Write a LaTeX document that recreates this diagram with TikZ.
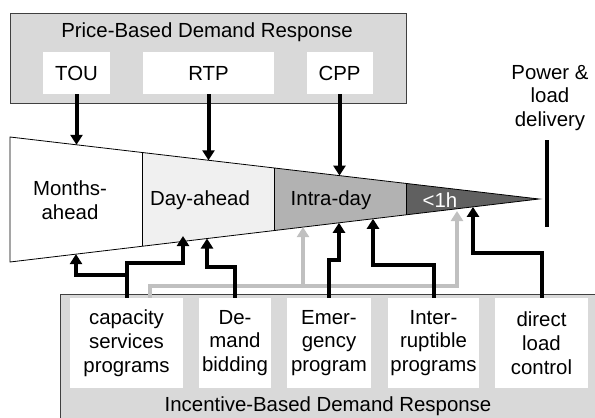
\documentclass[tikz,border=0pt]{standalone}
\usepackage{fontspec}
\setmainfont{Liberation Sans}
\usetikzlibrary{arrows.meta}
\definecolor{panelgray}{HTML}{D9D9D9}
\definecolor{dayfill}{HTML}{F0F0F0}
\definecolor{intrafill}{HTML}{B2B2B2}
\definecolor{hourfill}{HTML}{606060}
\definecolor{linkgray}{HTML}{C0C0C0}
\tikzset{
  every node/.style={font=\fontsize{20.4}{23.8}\selectfont, inner sep=0pt, align=center},
  panel/.style={draw=black!75, line width=0.9pt, fill=panelgray, anchor=north west},
  item/.style={fill=white, minimum height=42pt},
  prog/.style={fill=white, minimum height=90pt},
  link/.style={line width=4pt, -{Triangle[width=12pt,length=10pt]}},
  greylink/.style={link, draw=linkgray},
}

\begin{document}
\begin{tikzpicture}[x=1pt,y=-1pt]
    \useasboundingbox (0,0) rectangle (595,418);
    % panels
    \node[panel, minimum width=396pt, minimum height=90pt] (pricebox) at (10,13) {};
    \node[panel, minimum width=560pt, minimum height=140pt] (incbox) at (60,294) {};
    \node (pricetitle) at (207,32) {Price-Based Demand Response};
    \node (inctitle) at (328,406) {Incentive-Based Demand Response};
    \node[item, minimum width=67pt] (tou) at (76.5,73) {TOU};
    \node[item, minimum width=131pt] (rtp) at (208.5,73) {RTP};
    \node[item, minimum width=66pt] (cpp) at (339.5,73) {CPP};
    \node[prog, minimum width=113pt] (cap) at (126.5,343) {capacity\\services\\programs};
    \node[prog, minimum width=72pt] (dem) at (235,343) {De-\\mand\\bidding};
    \node[prog, minimum width=84pt] (emg) at (329,343) {Emer-\\gency\\program};
    \node[prog, minimum width=91pt] (int) at (433.5,343) {Inter-\\ruptible\\programs};
    \node[prog, minimum width=93pt] (dlc) at (541.5,343) {direct\\load\\control};
    % time wedge
    \coordinate (wtl) at (10,137);
    \coordinate (wbl) at (10,262);
    \coordinate (wtip) at (539,199);
    \foreach \xa/\xb/\col in {10/142/white,142/274/dayfill,274/406/intrafill}
      \fill[\col] (\xa,{137+0.1172*(\xa-10)}) -- (\xb,{137+0.1172*(\xb-10)})
        -- (\xb,{262-0.1191*(\xb-10)}) -- (\xa,{262-0.1191*(\xa-10)}) -- cycle;
    \fill[hourfill] (406,183.4) -- (wtip) -- (406,214.8) -- cycle;
    \foreach \x in {142,274,406}
      \draw[line width=0.8pt] (\x,{137+0.1172*(\x-10)}) -- (\x,{262-0.1191*(\x-10)});
    \draw[line width=0.8pt] (wtl) -- (wtip) -- (wbl) -- cycle;
    \node (months) at (70,200) {Months-\\ahead};
    \node (dayahead) at (200,200) {Day-ahead};
    \node (intraday) at (331,200) {Intra-day};
    \node[text=white] (hour) at (440,200) {<1h};
    % delivery
    \node (delivery) at (550,98) {Power \&\\load\\delivery};
    \coordinate (bartop) at (547,140);
    \coordinate (barbot) at (547,227);
    \draw[line width=4.5pt] (bartop) -- (barbot);
    % arrow targets on the wedge
    \coordinate (touT) at (76.5,144.8);
    \coordinate (rtpT) at (208.5,160.3);
    \coordinate (cppT) at (339.5,175.6);
    \coordinate (monthsB) at (76,254.1);
    \coordinate (dayB1) at (183,236);
    \coordinate (dayB2) at (207,238.5);
    \coordinate (intraB1) at (303,227.1);
    \coordinate (intraB2) at (339,222.8);
    \coordinate (intraB3) at (373,218.8);
    \coordinate (hourB1) at (457,211);
    \coordinate (hourB2) at (473,206.9);
    \coordinate (gbus) at (150,286);
    % price links
    \draw[link] (tou.south) -- (touT);
    \draw[link] (rtp.south) -- (rtpT);
    \draw[link] (cpp.south) -- (cppT);
    % incentive links
    \draw[greylink] (cap.north -| gbus) -- (gbus) -| (hourB1);
    \draw[greylink] (gbus -| intraB1) -- (intraB1);
    \draw[link] (cap.north) -- ++(0,-35) -| (dayB1);
    \draw[link] (cap.north) ++(0,-23) -| (monthsB);
    \draw[link] (dem.north) -- ++(0,-31) -| (dayB2);
    \draw[link] (emg.north) -- ++(0,-38) -| (intraB2);
    \draw[link] (int.north) -- ++(0,-33) -| (intraB3);
    \draw[link] (dlc.north) -- ++(0,-45) -| (hourB2);
\end{tikzpicture}
\end{document}
